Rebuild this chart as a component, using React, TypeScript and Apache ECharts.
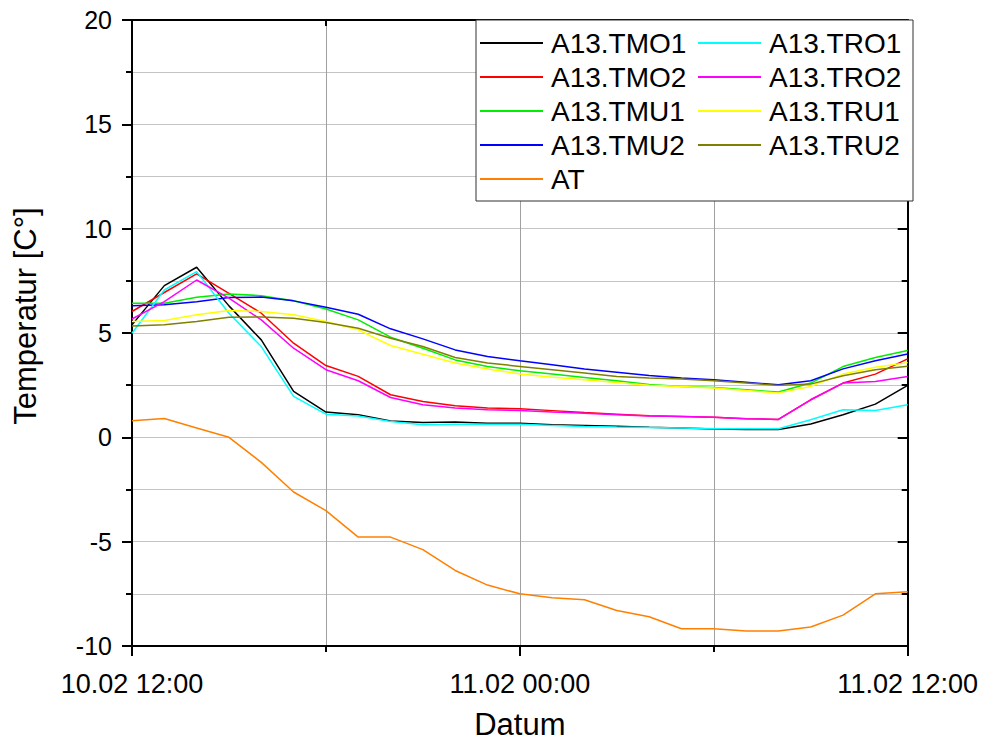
import React, { useEffect, useRef } from "react";
import * as echarts from "echarts";

// Hours after 10.02 12:00 (hourly readings)
const hours = [0, 1, 2, 3, 4, 5, 6, 7, 8, 9, 10, 11, 12, 13, 14, 15, 16, 17, 18, 19, 20, 21, 22, 23, 24];

// Tick labels for the time axis at 0 h, 12 h and 24 h
const xTickLabels = ["10.02 12:00", "11.02 00:00", "11.02 12:00"];

// Temperatures in °C
const tmo1 = [5.39, 7.27, 8.15, 6.3, 4.67, 2.2, 1.21, 1.08, 0.78, 0.71, 0.73, 0.68, 0.67, 0.6, 0.57, 0.53, 0.48, 0.45, 0.4, 0.37, 0.37, 0.64, 1.08, 1.59, 2.49];
const tmo2 = [6.03, 6.94, 7.83, 6.9, 5.95, 4.51, 3.44, 2.92, 2.04, 1.72, 1.51, 1.4, 1.37, 1.28, 1.19, 1.11, 1.03, 1.0, 0.96, 0.89, 0.86, 1.8, 2.6, 3.03, 3.76];
const tmu1 = [6.43, 6.43, 6.71, 6.87, 6.79, 6.55, 6.15, 5.63, 4.8, 4.27, 3.71, 3.39, 3.19, 3.03, 2.87, 2.71, 2.53, 2.44, 2.39, 2.28, 2.17, 2.6, 3.39, 3.83, 4.16];
const tmu2 = [6.31, 6.35, 6.5, 6.7, 6.72, 6.54, 6.23, 5.9, 5.2, 4.72, 4.19, 3.87, 3.67, 3.48, 3.28, 3.12, 2.96, 2.84, 2.76, 2.64, 2.52, 2.71, 3.28, 3.67, 3.99];
const at = [0.8, 0.9, 0.45, 0.0, -1.2, -2.62, -3.51, -4.78, -4.78, -5.38, -6.38, -7.08, -7.5, -7.69, -7.78, -8.3, -8.6, -9.17, -9.17, -9.28, -9.28, -9.09, -8.52, -7.5, -7.4];
const tro1 = [4.99, 7.06, 7.94, 5.95, 4.35, 1.96, 1.11, 1.02, 0.76, 0.6, 0.63, 0.63, 0.63, 0.57, 0.52, 0.49, 0.47, 0.45, 0.41, 0.41, 0.41, 0.84, 1.32, 1.29, 1.56];
const tro2 = [5.67, 6.5, 7.54, 6.67, 5.63, 4.27, 3.24, 2.71, 1.91, 1.56, 1.4, 1.32, 1.28, 1.21, 1.16, 1.08, 1.02, 1.0, 0.96, 0.89, 0.86, 1.8, 2.6, 2.68, 2.92];
const tru1 = [5.55, 5.6, 5.87, 6.08, 6.03, 5.87, 5.55, 5.15, 4.4, 3.98, 3.56, 3.28, 3.03, 2.88, 2.76, 2.63, 2.5, 2.44, 2.36, 2.24, 2.13, 2.44, 3.03, 3.36, 3.58];
const tru2 = [5.34, 5.39, 5.55, 5.76, 5.77, 5.71, 5.5, 5.23, 4.75, 4.35, 3.83, 3.56, 3.4, 3.24, 3.08, 2.92, 2.84, 2.79, 2.71, 2.6, 2.49, 2.55, 2.95, 3.24, 3.41];

const seriesNames = ["A13.TMO1", "A13.TMO2", "A13.TMU1", "A13.TMU2", "AT", "A13.TRO1", "A13.TRO2", "A13.TRU1", "A13.TRU2"];
const seriesValues = [tmo1, tmo2, tmu1, tmu2, at, tro1, tro2, tru1, tru2];
const seriesColors = ["#000000", "#ff0000", "#00ee00", "#0000ff", "#ff8000", "#00ffff", "#ff00ff", "#ffff00", "#808000"];

// Legend reads row by row in two columns
const legendOrder = ["A13.TMO1", "A13.TRO1", "A13.TMO2", "A13.TRO2", "A13.TMU1", "A13.TRU1", "A13.TMU2", "A13.TRU2", "AT"];

const FONT = "'Liberation Sans', Arial, Helvetica, sans-serif";

export default function App() {
  const ref = useRef<HTMLDivElement>(null);

  useEffect(() => {
    if (!ref.current) return;
    const chart = echarts.init(ref.current, null, { renderer: "svg" });

    const axisLineStyle = { color: "#000", width: 2 };

    chart.setOption({
      animation: false,
      backgroundColor: "#ffffff",
      textStyle: { fontFamily: FONT },
      grid: { left: 132, top: 20, width: 776, height: 628, containLabel: false },
      legend: {
        data: legendOrder,
        orient: "horizontal",
        left: 476,
        top: 20,
        width: 440,
        padding: [9, 3, 8, 4],
        itemGap: 6,
        itemWidth: 63,
        itemHeight: 2,
        icon: "rect",
        backgroundColor: "#ffffff",
        borderColor: "#303030",
        borderWidth: 1,
        borderRadius: 0,
        textStyle: {
          fontFamily: FONT,
          fontSize: 28,
          color: "#000",
          width: 141,
          lineHeight: 28,
          padding: [0, 0, 0, 3],
        },
      },
      xAxis: [
        {
          type: "value",
          position: "bottom",
          min: 0,
          max: 24,
          interval: 12,
          name: "Datum",
          nameLocation: "middle",
          nameGap: 63,
          nameTextStyle: { fontFamily: FONT, fontSize: 31, color: "#000", lineHeight: 31 },
          axisLine: { show: true, onZero: false, lineStyle: axisLineStyle },
          axisTick: { show: true, inside: false, length: 10, lineStyle: axisLineStyle },
          minorTick: { show: true, splitNumber: 2, length: 6, lineStyle: axisLineStyle },
          axisLabel: {
            show: true,
            margin: 24,
            fontFamily: FONT,
            fontSize: 27,
            color: "#000",
            showMinLabel: true,
            showMaxLabel: true,
            formatter: (v: number) => xTickLabels[Math.round(v / 12)] ?? "",
          },
          splitLine: { show: true, lineStyle: { color: "#a0a0a0", width: 1 } },
          minorSplitLine: { show: true, lineStyle: { color: "#a0a0a0", width: 1 } },
        },
        {
          type: "value",
          position: "top",
          min: 0,
          max: 24,
          interval: 12,
          axisLine: { show: true, onZero: false, lineStyle: axisLineStyle },
          axisTick: { show: true, inside: true, length: 10, lineStyle: axisLineStyle },
          minorTick: { show: true, splitNumber: 2, length: 6, lineStyle: axisLineStyle },
          axisLabel: { show: false },
          splitLine: { show: false },
        },
      ],
      yAxis: [
        {
          type: "value",
          position: "left",
          min: -10,
          max: 20,
          interval: 5,
          name: "Temperatur [C°]",
          nameLocation: "middle",
          nameGap: 91,
          nameTextStyle: { fontFamily: FONT, fontSize: 31, color: "#000", padding: [0, 0, 0, 34] },
          axisLine: { show: true, onZero: false, lineStyle: axisLineStyle },
          axisTick: { show: true, inside: false, length: 10, lineStyle: axisLineStyle },
          minorTick: { show: true, splitNumber: 2, length: 6, lineStyle: axisLineStyle },
          axisLabel: { show: true, margin: 20, fontFamily: FONT, fontSize: 25, color: "#000" },
          splitLine: { show: true, lineStyle: { color: "#c4c4c4", width: 1 } },
          minorSplitLine: { show: true, lineStyle: { color: "#c4c4c4", width: 1 } },
        },
        {
          type: "value",
          position: "right",
          min: -10,
          max: 20,
          interval: 5,
          axisLine: { show: true, onZero: false, lineStyle: axisLineStyle },
          axisTick: { show: true, inside: true, length: 10, lineStyle: axisLineStyle },
          minorTick: { show: true, splitNumber: 2, length: 6, lineStyle: axisLineStyle },
          axisLabel: { show: false },
          splitLine: { show: false },
        },
      ],
      series: seriesNames.map((name, i) => ({
        name,
        type: "line",
        xAxisIndex: 0,
        yAxisIndex: 0,
        symbol: "none",
        color: seriesColors[i],
        lineStyle: { color: seriesColors[i], width: 1.5 },
        data: hours.map((h, j) => [h, seriesValues[i][j]]),
      })),
    });

    return () => chart.dispose();
  }, []);

  return (
    <div
      ref={ref}
      style={{
        position: "absolute",
        left: 0,
        top: 0,
        width: 981,
        height: 745,
        overflow: "hidden",
        background: "#fff",
      }}
    />
  );
}
